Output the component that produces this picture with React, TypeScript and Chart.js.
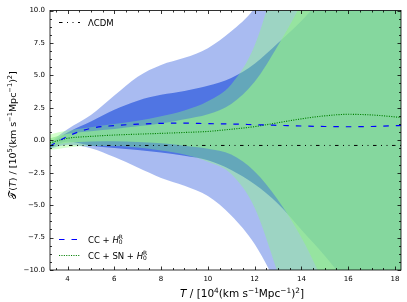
import React, { useEffect, useRef } from 'react';
import { Chart, registerables } from 'chart.js';
Chart.register(...registerables);

// ---- data ----
const T = [3.25, 4, 5, 6, 7, 8, 9, 10, 11, 12, 13, 14, 15, 16, 17, 18, 18.26];
const LCDM = -0.4;
const BLUE_MEAN = [-0.45, 0.3, 0.92, 1.13, 1.24, 1.3, 1.32, 1.28, 1.25, 1.2, 1.15, 1.1, 1.06, 1.04, 1.06, 1.12, 1.14];
const BLUE_1S_UP = [-0.25, 0.6, 1.45, 2.35, 3.05, 3.5, 3.8, 4.2, 4.8, 5.9, 7.5, 9.2, 11.2, 13.5, 16, 19, 20];
const BLUE_1S_LO = [-0.6, -0.1, -0.42, -0.6, -0.75, -0.95, -1.2, -1.55, -2.3, -3.4, -4.9, -6.9, -8.9, -11.2, -14, -17, -18];
const BLUE_2S_UP = [-0.15, 0.85, 1.95, 3.45, 4.9, 5.8, 6.35, 7.1, 8.4, 10.2, 13.5, 17.5, 22, 27, 32, 37, 38];
const BLUE_2S_LO = [-0.65, -0.35, -0.62, -1.3, -2.1, -2.9, -3.5, -4.3, -5.8, -8.0, -11.3, -15, -19.5, -24.5, -29.5, -34.5, -36];
const GREEN_MEAN = [-0.2, 0.15, 0.3, 0.4, 0.47, 0.53, 0.6, 0.68, 0.85, 1.05, 1.35, 1.65, 1.88, 2.0, 1.95, 1.8, 1.75];
const GREEN_1S_UP = [0.15, 0.5, 0.7, 0.87, 1.07, 1.3, 1.62, 2.0, 2.8, 4.5, 7.3, 10.6, 15, 20, 25, 30, 31];
const GREEN_1S_LO = [-0.45, -0.2, -0.1, -0.07, -0.13, -0.24, -0.42, -0.65, -1.1, -2.4, -4.6, -7.5, -11.2, -15.5, -20, -25, -26];
const GREEN_2S_UP = [0.45, 0.75, 1.0, 1.25, 1.5, 1.85, 2.3, 3.0, 4.3, 7.3, 13, 19, 25, 31, 37, 43, 44];
const GREEN_2S_LO = [-0.75, -0.55, -0.45, -0.45, -0.56, -0.79, -1.1, -1.65, -2.6, -5.2, -10.3, -16, -22, -28, -34, -40, -41];

const X_TICKS = [4, 6, 8, 10, 12, 14, 16, 18];
const Y_TICKS = [-10, -7.5, -5, -2.5, 0, 2.5, 5, 7.5, 10];
const X_MIN = 3.25, X_MAX = 18.26, Y_MIN = -10, Y_MAX = 10;

const FAM = '"DejaVu Sans", sans-serif';
const C_B2 = 'rgba(65,105,225,0.45)';
const C_B1 = 'rgba(65,105,225,0.85)';
const C_G2 = 'rgba(135,255,118,0.37)';
const C_G1 = 'rgba(147,235,145,0.7)';
const BLUE_DASH = [5.5, 7];
const GREEN_DOT = [1.1, 1.3];
const LCDM_DASH = [3.5, 4.5, 1, 4.5, 1, 4.5];

type Seg = { t: string; sup?: boolean; sub?: boolean; it?: boolean; stack?: boolean; fam?: string };

function drawRich(ctx: CanvasRenderingContext2D, segs: Seg[], x: number, y: number, size: number, align: 'left' | 'center') {
  const fontFor = (s: Seg) => `${s.it ? 'italic ' : ''}${s.sup || s.sub ? size * 0.7 : size}px ${s.fam || FAM}`;
  const ws = segs.map((s) => { ctx.font = fontFor(s); return ctx.measureText(s.t).width; });
  let total = 0;
  segs.forEach((s, i) => { if (!s.stack) total += ws[i]; });
  let cx = align === 'center' ? x - total / 2 : x;
  ctx.textBaseline = 'alphabetic';
  ctx.textAlign = 'left';
  segs.forEach((s, i) => {
    ctx.font = fontFor(s);
    const dy = s.sup ? -size * 0.42 : s.sub ? size * 0.22 : 0;
    ctx.fillText(s.t, cx, y + dy);
    if (!s.stack) cx += ws[i];
  });
}

const pts = (arr: number[]) => T.map((t, i) => ({ x: t, y: arr[i] }));

const band = (arr: number[], order: number, fill: any, color: string) => ({
  data: pts(arr),
  borderColor: 'rgba(0,0,0,0)',
  borderWidth: 0,
  pointRadius: 0,
  fill,
  backgroundColor: color,
  order,
  cubicInterpolationMode: 'monotone' as const,
});

const frameTicks = {
  id: 'frameTicks',
  afterDatasetsDraw(chart: any) {
    const { ctx, chartArea, scales } = chart;
    const { left, right, top, bottom } = chartArea;
    const x = scales.x, y = scales.y;
    ctx.save();
    ctx.strokeStyle = '#000';
    ctx.lineWidth = 0.8;
    const MAJ = 3.5, MIN = 2;
    const vt = (v: number, len: number) => {
      const px = Math.round(x.getPixelForValue(v)) + 0.5;
      ctx.beginPath();
      ctx.moveTo(px, bottom); ctx.lineTo(px, bottom - len);
      ctx.moveTo(px, top); ctx.lineTo(px, top + len);
      ctx.stroke();
    };
    const ht = (v: number, len: number) => {
      const py = Math.round(y.getPixelForValue(v)) + 0.5;
      ctx.beginPath();
      ctx.moveTo(left, py); ctx.lineTo(left + len, py);
      ctx.moveTo(right, py); ctx.lineTo(right - len, py);
      ctx.stroke();
    };
    X_TICKS.forEach((v) => vt(v, MAJ));
    for (let v = 3.5; v <= X_MAX + 1e-9; v += 0.5) if (Math.abs(v / 2 - Math.round(v / 2)) > 1e-6) vt(v, MIN);
    Y_TICKS.forEach((v) => ht(v, MAJ));
    for (let k = -16; k <= 16; k++) { const v = k * 0.625; if (k % 4 !== 0) ht(v, MIN); }
    ctx.strokeRect(left, top, right - left, bottom - top);
    ctx.restore();
  },
};

const annotations = {
  id: 'annotations',
  afterDraw(chart: any) {
    const ctx: CanvasRenderingContext2D = chart.ctx;
    ctx.save();
    ctx.fillStyle = '#000';
    const sample = (y: number, color: string, dash: number[], w: number) => {
      ctx.save();
      ctx.strokeStyle = color; ctx.lineWidth = w; ctx.setLineDash(dash);
      ctx.beginPath(); ctx.moveTo(59, y); ctx.lineTo(80, y); ctx.stroke();
      ctx.restore();
    };
    sample(22.5, '#000', LCDM_DASH, 1);
    sample(239.5, 'blue', BLUE_DASH, 1.2);
    sample(255.5, 'green', GREEN_DOT, 1.1);
    const LS = 8.5;
    drawRich(ctx, [{ t: 'ΛCDM' }], 88, 22.5 + LS * 0.36, LS, 'left');
    drawRich(ctx, [{ t: 'CC + ' }, { t: 'H', it: true }, { t: 'R', sup: true, stack: true }, { t: '0', sub: true }], 88, 239.5 + LS * 0.36, LS, 'left');
    drawRich(ctx, [{ t: 'CC + SN + ' }, { t: 'H', it: true }, { t: 'R', sup: true, stack: true }, { t: '0', sub: true }], 88, 255.5 + LS * 0.36, LS, 'left');
    // x title
    drawRich(ctx, [
      { t: 'T', it: true }, { t: ' / [10' }, { t: '4', sup: true }, { t: '(km s' }, { t: '−1', sup: true },
      { t: 'Mpc' }, { t: '−1', sup: true }, { t: ')' }, { t: '2', sup: true }, { t: ']' },
    ], 242, 297, 10.5, 'center');
    // y title
    ctx.save();
    ctx.translate(15.5, 135);
    ctx.rotate(-Math.PI / 2);
    drawRich(ctx, [
      { t: '𝒯', fam: '"DejaVu Sans", "Noto Sans", serif' }, { t: '(' }, { t: 'T', it: true }, { t: ') / [10' }, { t: '5', sup: true }, { t: '(km s' }, { t: '−1', sup: true },
      { t: 'Mpc' }, { t: '−1', sup: true }, { t: ')' }, { t: '2', sup: true }, { t: ']' },
    ], 0, 0, 9.5, 'center');
    ctx.restore();
    ctx.restore();
  },
};

export default function App() {
  const ref = useRef<HTMLCanvasElement>(null);
  useEffect(() => {
    const chart = new Chart(ref.current!, {
      type: 'line',
      data: {
        datasets: [
          band(BLUE_2S_UP, 4, '+1', C_B2),
          band(BLUE_2S_LO, 4, false, C_B2),
          band(BLUE_1S_UP, 3, '+1', C_B1),
          band(BLUE_1S_LO, 3, false, C_B1),
          band(GREEN_2S_UP, 2, '+1', C_G2),
          band(GREEN_2S_LO, 2, false, C_G2),
          band(GREEN_1S_UP, 1, '+1', C_G1),
          band(GREEN_1S_LO, 1, false, C_G1),
          {
            data: T.map((t) => ({ x: t, y: LCDM })), borderColor: '#000', borderWidth: 1, borderDash: LCDM_DASH,
            pointRadius: 0, fill: false, order: 0,
          },
          {
            data: pts(BLUE_MEAN), borderColor: 'blue', borderWidth: 1.2, borderDash: BLUE_DASH,
            pointRadius: 0, fill: false, order: 0, cubicInterpolationMode: 'monotone',
          },
          {
            data: pts(GREEN_MEAN), borderColor: 'green', borderWidth: 1.1, borderDash: GREEN_DOT,
            pointRadius: 0, fill: false, order: 0, cubicInterpolationMode: 'monotone',
          },
        ] as any,
      },
      options: {
        responsive: false,
        animation: false,
        events: [],
        layout: { padding: { left: 0, right: 6, top: 10.5, bottom: 0 } },
        plugins: { legend: { display: false }, tooltip: { enabled: false }, filler: { drawTime: 'beforeDatasetsDraw' } } as any,
        scales: {
          x: {
            type: 'linear', min: X_MIN, max: X_MAX,
            grid: { display: false, drawTicks: false },
            border: { display: false },
            afterBuildTicks: (s: any) => { s.ticks = X_TICKS.map((v) => ({ value: v })); },
            afterFit: (s: any) => { s.height = 32; },
            ticks: {
              autoSkip: false, maxRotation: 0, padding: 5, color: '#000',
              font: { family: 'DejaVu Sans', size: 7 },
              callback: (v: any) => String(v),
            },
          },
          y: {
            type: 'linear', min: Y_MIN, max: Y_MAX,
            grid: { display: false, drawTicks: false },
            border: { display: false },
            afterBuildTicks: (s: any) => { s.ticks = Y_TICKS.map((v) => ({ value: v })); },
            afterFit: (s: any) => { s.width = 50; },
            ticks: {
              autoSkip: false, padding: 5, color: '#000',
              font: { family: 'DejaVu Sans', size: 7 },
              callback: (v: any) => Number(v).toFixed(1).replace('-', '−'),
            },
          },
        },
      } as any,
      plugins: [frameTicks, annotations],
    });
    return () => chart.destroy();
  }, []);
  return (
    <div style={{ position: 'absolute', left: 0, top: 0, width: 407, height: 302 }}>
      <canvas ref={ref} width={407} height={302} style={{ display: 'block', width: 407, height: 302 }} />
    </div>
  );
}
